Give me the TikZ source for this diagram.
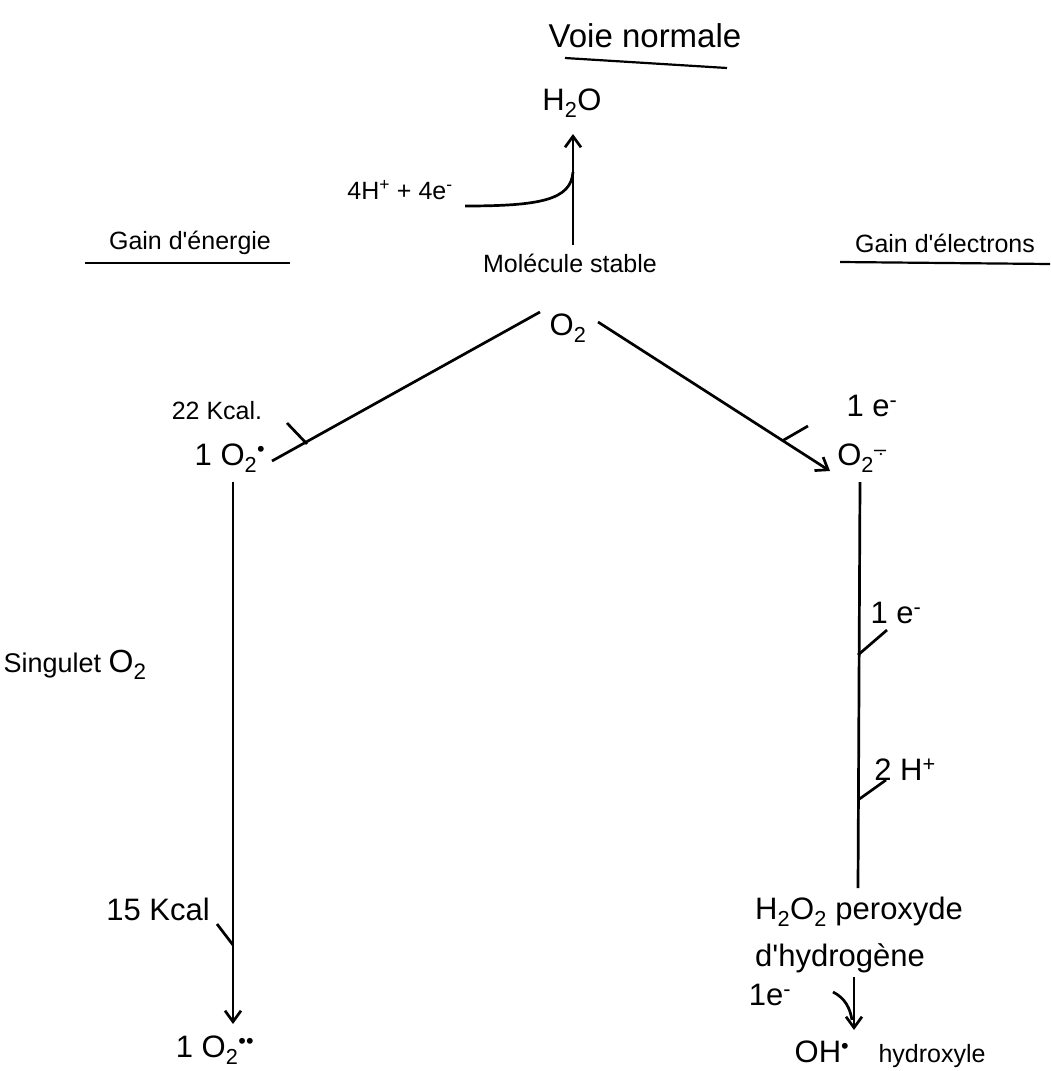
\documentclass[tikz,border=0pt]{standalone}
\usepackage{fontspec}
\setmainfont{Liberation Sans}
\usetikzlibrary{arrows.meta}
\newcommand{\sbt}[1]{\textsubscript{#1}}
\newcommand{\spt}[1]{\textsuperscript{#1}}
\newcommand{\aq}{\textquotesingle}
\begin{document}
\begin{tikzpicture}[x=1pt,y=-1pt,
  big/.style={font=\fontsize{31}{33}\selectfont, inner sep=0pt},
  small/.style={font=\fontsize{25}{27}\selectfont, inner sep=0pt},
  ln/.style={line width=2.7pt},
  tick/.style={line width=2.7pt},
  arr/.style={line width=2.7pt,-{Straight Barb[length=11pt,width=16pt,line width=2.7pt]}}]
\useasboundingbox (0,0) rectangle (1051,1071);
% title
\node[font=\fontsize{33}{35}\selectfont, inner sep=0pt] (title) at (645,36) {Voie normale};
\coordinate (tl) at (565,58); \coordinate (tr) at (727,68);
\draw[line width=2.2pt] (tl) -- (tr);
% top
\node[big] (h2o) at (572,103) {H\sbt{2}O};
\node[small] (mol) at (570,263) {Molécule stable};
\coordinate (vbot) at (573,245);
\coordinate (vtop) at (573,134);
\coordinate (vjoin) at (573,172);
\draw[arr] (vbot) -- (vtop);
\coordinate (cst) at (465,206);
\draw[ln] (cst) .. controls (540,206) and (571,200) .. (vjoin);
\node[small] (h4) at (400,190) {4H\spt{+} + 4e\spt{-}};
% side headings
\node[small] (ge) at (190,243) {Gain d\aq énergie};
\coordinate (gel) at (85,263); \coordinate (ger) at (290,263);
\draw[line width=2.2pt] (gel) -- (ger);
\node[small] (gel2) at (945,243) {Gain d\aq électrons};
\coordinate (gal) at (840,262); \coordinate (gar) at (1050,264);
\draw[line width=2.2pt] (gal) -- (gar);
% O2
\node[big] (o2) at (568,328) {O\sbt{2}};
\coordinate (ls) at (540,312); \coordinate (le) at (272,461);
\draw[ln] (ls) -- (le);
\coordinate (t1a) at (307,444); \coordinate (t1b) at (287,423);
\draw[tick] (t1a) -- (t1b);
\node[small] (k22) at (217,411) {22 Kcal.};
\coordinate (rs) at (598,322); \coordinate (re) at (830,471);
\draw[arr] (rs) -- (re);
\coordinate (t2a) at (782,441); \coordinate (t2b) at (808,426);
\draw[tick] (t2a) -- (t2b);
\node[big] (e1) at (872,406) {1 e\spt{-}};
% second row
\node[big] (o2s) at (230,458) {1 O\sbt{2}\spt{•}};
\node[big] (o2m) at (862,458) {O\sbt{2}\spt{–}};
\fill ([xshift=-6pt,yshift=4pt]o2m.east) circle (1.3pt);
% left column
\coordinate (lvs) at (233,482); \coordinate (lve) at (233,1024);
\draw[arr] (lvs) -- (lve);
\node[font=\fontsize{27}{29}\selectfont, inner sep=0pt] (sing) at (75,665) {Singulet {\fontsize{32}{34}\selectfont O\sbt{2}}};
\coordinate (t3a) at (217,924); \coordinate (t3b) at (233,945);
\draw[tick] (t3a) -- (t3b);
\node[big] (k15) at (158,909) {15 Kcal};
\node[big] (o2ss) at (215,1050) {1 O\sbt{2}\spt{••}};
% right column
\coordinate (rvs) at (860,482); \coordinate (rve) at (858,888);
\draw[ln] (rvs) -- (rve);
\coordinate (t4a) at (858,655); \coordinate (t4b) at (887,630);
\draw[tick] (t4a) -- (t4b);
\node[big] (e2) at (896,613) {1 e\spt{-}};
\coordinate (t5a) at (858,800); \coordinate (t5b) at (886,780);
\draw[tick] (t5a) -- (t5b);
\node[big] (h2p) at (905,770) {2 H\spt{+}};
\node[big, anchor=west] (h2o2) at (755,912) {H\sbt{2}O\sbt{2} peroxyde};
\node[big, anchor=west] (dh) at (755,958) {d\aq hydrogène};
\node[big] (e3) at (770,995) {1e\spt{-}};
\coordinate (sas) at (854,977); \coordinate (sae) at (854,1030);
\draw[arr] (sas) -- (sae);
\coordinate (scs) at (833,992); \coordinate (sce) at (852,1020);
\draw[ln] (scs) .. controls (845,998) and (850,1008) .. (sce);
\node[big] (oh) at (822,1052) {OH\spt{•}};
\node[small] (hyd) at (932,1056) {hydroxyle};
\end{tikzpicture}
\end{document}
